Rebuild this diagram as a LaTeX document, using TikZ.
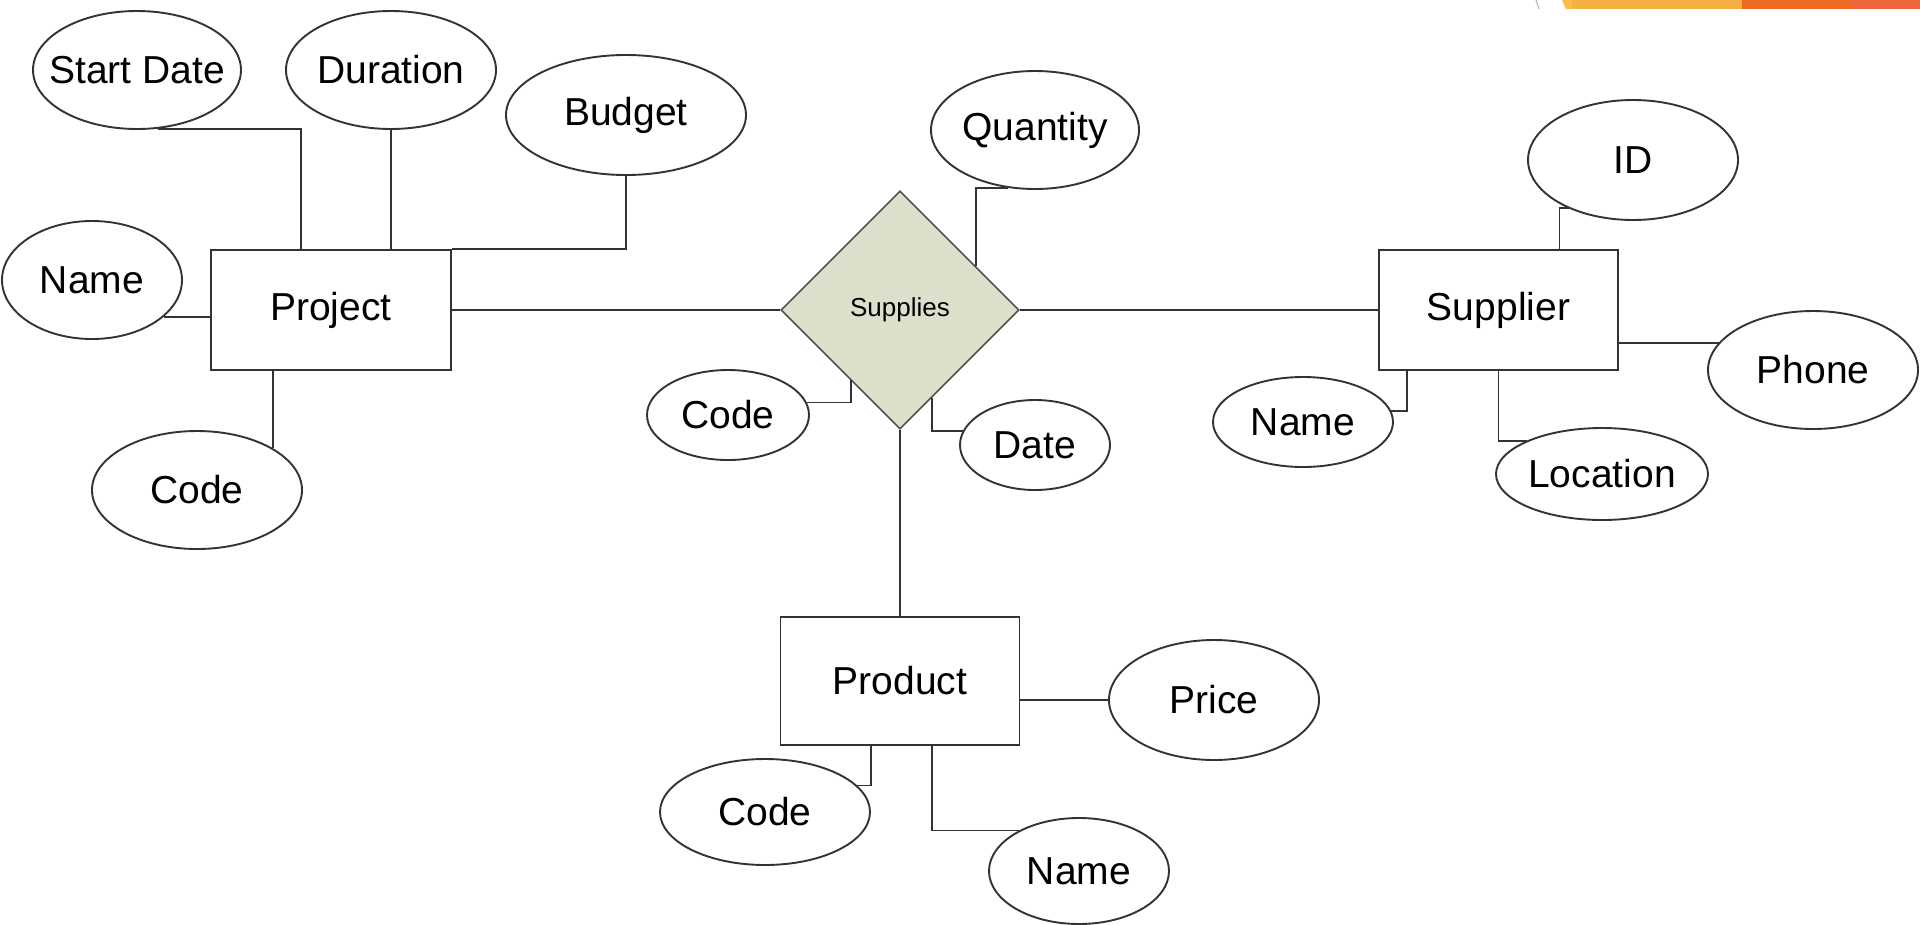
\documentclass[tikz,border=0pt]{standalone}
\usepackage{fontspec}
\setmainfont{Liberation Sans}
\usetikzlibrary{shapes.geometric,calc}
\definecolor{linec}{HTML}{333333}
\definecolor{relfill}{HTML}{DCE0CB}
\definecolor{orlight}{HTML}{F5B042}
\definecolor{orlight2}{HTML}{F7BD4F}
\definecolor{ordark}{HTML}{EE6B26}
\definecolor{ordark2}{HTML}{EC6739}
\newcommand{\ctrtext}[1]{\makebox[0pt][c]{#1}}
\begin{document}
\begin{tikzpicture}[x=1pt,y=-1pt,
  conn/.style={draw=linec,line width=1.9pt},
  attr/.style={ellipse,draw=linec,line width=1.9pt,fill=white,inner sep=0pt,
    font=\fontsize{39}{44}\selectfont},
  entity/.style={rectangle,draw=linec,line width=1.9pt,fill=white,inner sep=0pt,
    font=\fontsize{39}{44}\selectfont},
  relation/.style={diamond,draw=linec!85,line width=1.6pt,fill=relfill,inner sep=0pt,
    minimum width=238pt,minimum height=238pt,font=\fontsize{26}{30}\selectfont}]
\useasboundingbox (0,0) rectangle (1920,924);
\fill[white] (0,0) rectangle (1920,924);
% top right decoration
\fill[orlight2] (1562,0) -- (1572,0) -- (1572,9) -- (1566,9) -- cycle;
\fill[orlight] (1572,0) rectangle (1742,9);
\fill[ordark] (1742,0) rectangle (1852,9);
\fill[ordark2] (1852,0) rectangle (1920,9);
\draw[gray!60,line width=1pt] (1536,0) -- (1539,9);

% entities
\node[entity,minimum width=240pt,minimum height=120pt] (proj) at (331,310) {Project};
\node[entity,minimum width=239pt,minimum height=120pt] (sup) at (1498.5,310) {Supplier};
\node[entity,minimum width=239pt,minimum height=128pt] (prod) at (900,681) {Product};
\node[relation] (rel) at (900,310) {Supplies};

% project attributes
\node[attr,minimum width=208pt,minimum height=118pt] (sd) at (137,70) {\ctrtext{Start Date}};
\node[attr,minimum width=210pt,minimum height=118pt] (dur) at (391,70) {\ctrtext{Duration}};
\node[attr,minimum width=240pt,minimum height=120pt] (bud) at (626,115) {\ctrtext{Budget}};
\node[attr,minimum width=180pt,minimum height=118pt] (pname) at (92,280) {\ctrtext{Name}};
\node[attr,minimum width=210pt,minimum height=118pt] (pcode) at (197,490) {\ctrtext{Code}};

% relationship attributes
\node[attr,minimum width=208pt,minimum height=118pt] (qty) at (1035,130) {\ctrtext{Quantity}};
\node[attr,minimum width=162pt,minimum height=90pt] (rcode) at (728,415) {\ctrtext{Code}};
\node[attr,minimum width=150pt,minimum height=90pt] (date) at (1035,445) {\ctrtext{Date}};

% supplier attributes
\node[attr,minimum width=210pt,minimum height=120pt] (sid) at (1633,160) {\ctrtext{ID}};
\node[attr,minimum width=210pt,minimum height=118pt] (phone) at (1813,370) {\ctrtext{Phone}};
\node[attr,minimum width=180pt,minimum height=90pt] (sname) at (1303,422) {\ctrtext{Name}};
\node[attr,minimum width=212pt,minimum height=92pt] (loc) at (1602,474) {\ctrtext{Location}};

% product attributes
\node[attr,minimum width=210pt,minimum height=120pt] (price) at (1214,700) {\ctrtext{Price}};
\node[attr,minimum width=210pt,minimum height=106pt] (prcode) at (765,812) {\ctrtext{Code}};
\node[attr,minimum width=180pt,minimum height=106pt] (prname) at (1079,871) {\ctrtext{Name}};

% connectors: project
\draw[conn] (sd.-70) -| ($(proj.north west)!0.375!(proj.north east)$);
\draw[conn] (dur.south) -- (dur.south |- proj.north);
\draw[conn] (bud.south) |- (proj.north east);
\draw[conn] (pname.-27) -- (pname.-27 -| proj.west);
\draw[conn] (pcode.29) -- (pcode.29 |- proj.south);
\draw[conn] (proj.east) -- (rel.west);

% connectors: relationship
\draw[conn] (qty.-115) -| (rel.30.4);
\draw[conn] (rel.235) |- (rcode.9.5);
\draw[conn] (rel.-70) |- (date.169);
\draw[conn] (rel.east) -- (sup.west);
\draw[conn] (rel.south) -- (prod.north);

% connectors: supplier
\draw[conn] ($(sup.north west)!0.753!(sup.north east)$) |- (sid.-143);
\draw[conn] (phone.164) -- (phone.164 -| sup.east);
\draw[conn] ($(sup.south west)!0.121!(sup.south east)$) |- (sname.7);
\draw[conn] (sup.south) |- (loc.156);

% connectors: product
\draw[conn] (price.west -| prod.east) -- (price.west);
\draw[conn] ($(prod.south west)!0.381!(prod.south east)$) |- (prcode.16);
\draw[conn] ($(prod.south west)!0.632!(prod.south east)$) |- (prname.146);
\end{tikzpicture}
\end{document}
